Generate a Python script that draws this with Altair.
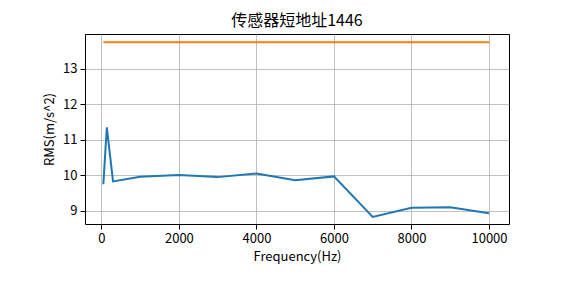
import altair as alt
import pandas as pd

freq = [50, 140, 300, 1000, 2000, 3000, 4000, 5000, 6000, 7000, 8000, 9000, 10000]
rms = [9.75, 11.35, 9.83, 9.96, 10.01, 9.95, 10.05, 9.86, 9.97, 8.83, 9.09, 9.10, 8.93]
limit = [13.75] * len(freq)
x_ticks = [0, 2000, 4000, 6000, 8000, 10000]
y_ticks = [9, 10, 11, 12, 13]

rows = []
for f, v in zip(freq, rms):
    rows.append({"freq": f, "value": v, "series": "rms"})
for f, v in zip(freq, limit):
    rows.append({"freq": f, "value": v, "series": "limit"})
df = pd.DataFrame(rows)

FONT = "Noto Sans CJK SC"

chart = alt.Chart(df).mark_line(strokeWidth=2, clip=True).encode(
    x=alt.X("freq:Q", scale=alt.Scale(domain=[-423, 10516], nice=False, zero=False),
            axis=alt.Axis(values=x_ticks, title="Frequency(Hz)", format="d")),
    y=alt.Y("value:Q", scale=alt.Scale(domain=[8.63, 13.98], nice=False, zero=False),
            axis=alt.Axis(values=y_ticks, title="RMS(m/s^2)", format="d")),
    color=alt.Color("series:N", scale=alt.Scale(domain=["rms", "limit"], range=["#1f77b4", "#ff7f0e"]), legend=None),
    detail="series:N",
).properties(
    width=424,
    height=190,
    title=alt.TitleParams("传感器短地址1446", fontSize=16, font=FONT, fontWeight="normal", offset=5, color="black"),
    autosize=alt.AutoSizeParams(type="none"),
    padding={"left": 85, "top": 34, "right": 56, "bottom": 59},
).configure_view(
    stroke="black", strokeWidth=1
).configure_axis(
    grid=True, gridColor="#b0b0b0", gridWidth=0.8,
    domain=False,
    tickColor="black", tickSize=5, tickWidth=1,
    labelFont=FONT, labelFontSize=13, labelColor="black", labelPadding=3,
    titleFont=FONT, titleFontSize=13, titleFontWeight="normal", titleColor="black",
).configure_axisX(titlePadding=5).configure_axisY(titlePadding=6)

chart.save("out.html", embed_options={"renderer": "svg", "actions": False})
